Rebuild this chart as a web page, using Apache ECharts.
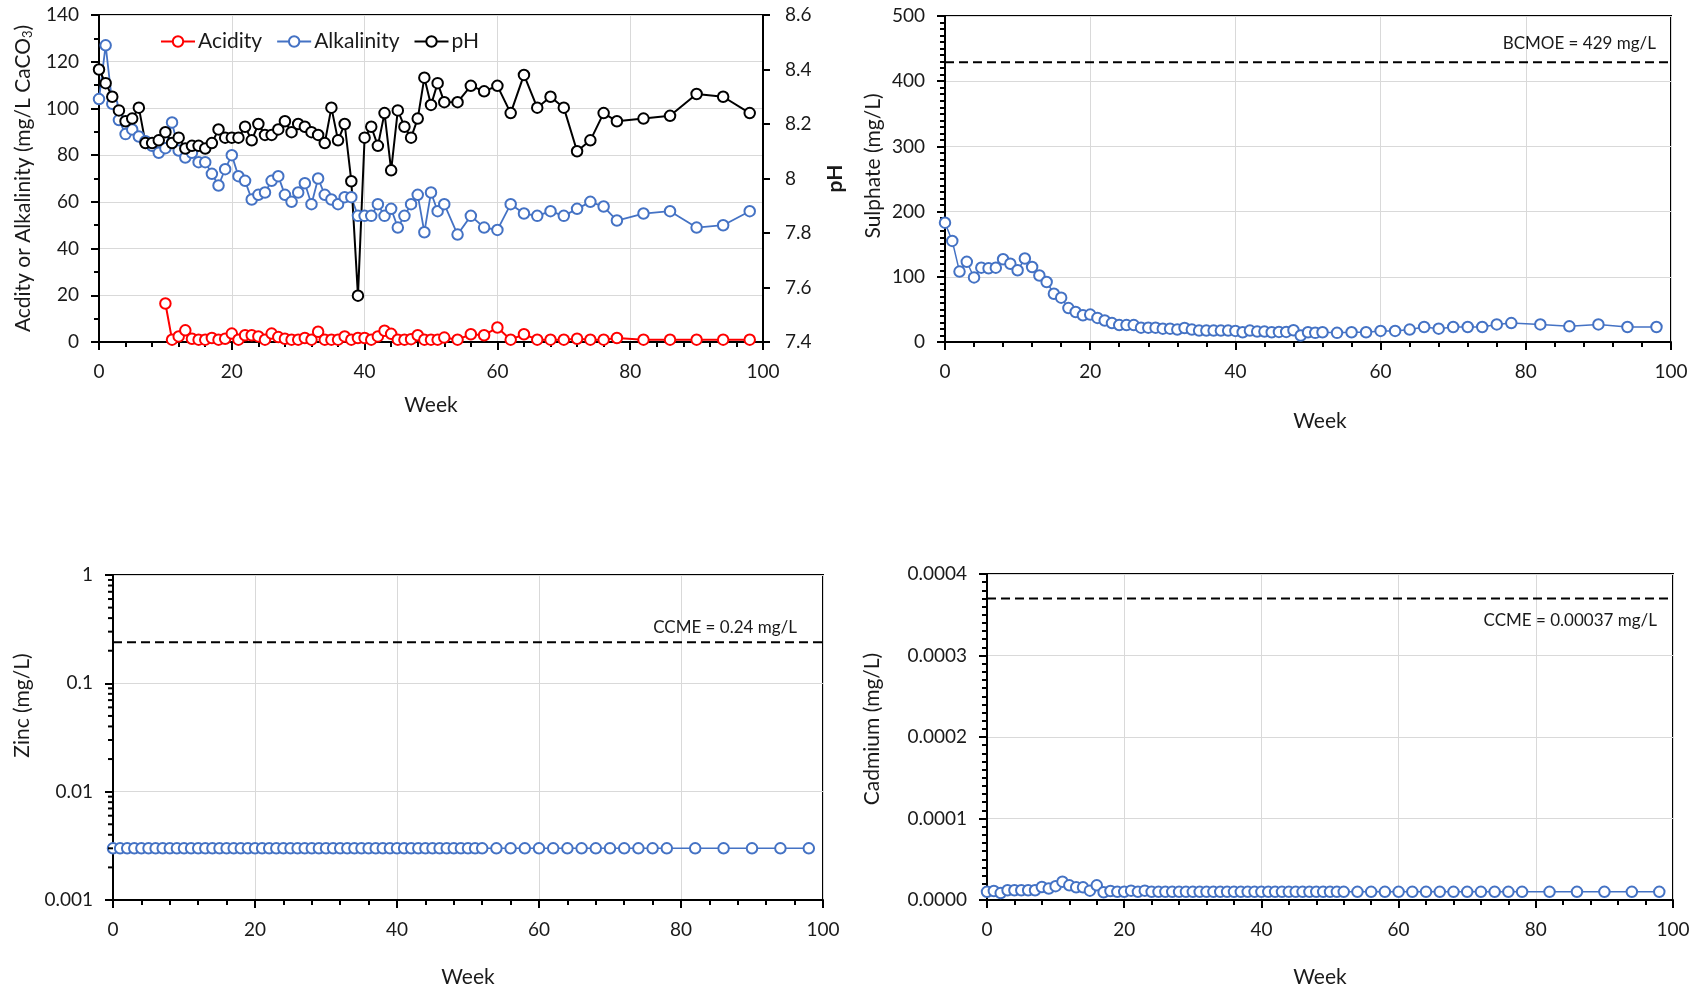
<!DOCTYPE html>
<html><head><meta charset="utf-8">
<script src="https://cdn.jsdelivr.net/npm/echarts@6/dist/echarts.min.js"></script>
<style>html,body{margin:0;padding:0;background:#fff}#c{width:1701px;height:990px}</style>
</head><body><div id="c"></div>
<script>
// ---------------- DATA ----------------
const weeks = [0,1,2,3,4,5,6,7,8,9,10,11,12,13,14,15,16,17,18,19,20,21,22,23,24,25,26,27,28,29,30,31,32,33,34,35,36,37,38,39,40,41,42,43,44,45,46,47,48,49,50,51,52,54,56,58,60,62,64,66,68,70,72,74,76,78,82,86,90,94,98];

const acidity = [null,null,null,null,null,null,null,null,null,null,
  16.5,1,2.4,5,1.4,1,1,1.7,1,1.4,
  3.6,1,2.9,2.9,2.4,1,3.6,2.1,1.4,1,
  1,1.7,1,4.4,1,1,1,2.4,1,1.7,
  1.7,1,2.4,4.8,3.5,1,1,1.2,2.9,1,
  1,1,1.9,
  1,3.3,2.9,6.2,1,3.3,1,1,1,1.4,1,1,1.7,
  1,1,1,1,1];

const alkalinity = [104,127,102,95,89,91,88,86,84,81,
  83,94,82,79,81,77,77,72,67,74,
  80,71,69,61,63,64,69,71,63,60,
  64,68,59,70,63,61,59,62,62,54,
  54,54,59,54,57,49,54,59,63,47,
  64,56,59,
  46,54,49,48,59,55,54,56,54,57,60,58,52,
  55,56,49,50,56];

const pH = [8.40,8.35,8.30,8.25,8.21,8.22,8.26,8.13,8.13,8.14,
  8.17,8.13,8.15,8.11,8.12,8.12,8.11,8.13,8.18,8.15,
  8.15,8.15,8.19,8.14,8.20,8.16,8.16,8.18,8.21,8.17,
  8.20,8.19,8.17,8.16,8.13,8.26,8.14,8.20,7.99,7.57,
  8.15,8.19,8.12,8.24,8.03,8.25,8.19,8.15,8.22,8.37,
  8.27,8.35,8.28,
  8.28,8.34,8.32,8.34,8.24,8.38,8.26,8.30,8.26,8.10,8.14,8.24,8.21,
  8.22,8.23,8.31,8.30,8.24];

const sulphate = [183,155,108,123,99,114,113,114,127,120,
  110,128,115,102,92,74,68,52,46,41,
  42,37,33,29,26,26,26,22,22,22,
  20.5,20.5,19,21.5,19,17.5,17.5,17.5,17.5,17.5,
  17,15,17.5,16,16,15,15.5,15.5,18,10,
  15,14,15,
  14,15,15,17,17,19,23,20.5,23,23,23,27,29,
  27,24,27,23,23];

const zinc = [0.003,0.003,0.003,0.003,0.003,0.003,0.003,0.003,0.003,0.003,
  0.003,0.003,0.003,0.003,0.003,0.003,0.003,0.003,0.003,0.003,
  0.003,0.003,0.003,0.003,0.003,0.003,0.003,0.003,0.003,0.003,
  0.003,0.003,0.003,0.003,0.003,0.003,0.003,0.003,0.003,0.003,
  0.003,0.003,0.003,0.003,0.003,0.003,0.003,0.003,0.003,0.003,
  0.003,0.003,0.003,
  0.003,0.003,0.003,0.003,0.003,0.003,0.003,0.003,0.003,0.003,0.003,0.003,0.003,
  0.003,0.003,0.003,0.003,0.003];

const cadmium = [0.000010,0.000011,0.0000085,0.000012,0.000012,0.000012,0.000012,0.000012,0.000016,0.000014,
  0.000017,0.0000225,0.000018,0.0000155,0.0000155,0.0000115,0.000018,0.0000095,0.000011,0.000010,
  0.000010,0.0000115,0.000010,0.0000115,0.000010,0.000010,0.000010,0.000010,0.000010,0.000010,
  0.000010,0.000010,0.000010,0.000010,0.000010,0.000010,0.000010,0.000010,0.000010,0.000010,
  0.000010,0.000010,0.000010,0.000010,0.000010,0.000010,0.000010,0.000010,0.000010,0.000010,
  0.000010,0.000010,0.000010,
  0.000010,0.000010,0.000010,0.000010,0.000010,0.000010,0.000010,0.000010,0.000010,0.000010,0.000010,0.000010,0.000010,
  0.000010,0.000010,0.000010,0.000010,0.000010];

const sulphateLimit = 429;
const zincLimit = 0.24;
const cadmiumLimit = 0.00037;

const sulphateLimitText = 'BCMOE = 429 mg/L';
const zincLimitText = 'CCME = 0.24 mg/L';
const cadmiumLimitText = 'CCME = 0.00037 mg/L';

const weekMin = 0, weekMax = 100;
const zincDecades = [0.001, 0.01, 0.1];   // log-axis decades that get minor ticks

// ---------------- STYLE ----------------
const FONT = 'Lato';
const TXT = '#1a1a1a';
const BLUE = '#4472C4';
const RED = '#FF0000';
const BLACK = '#000000';
const NAME_SIZE = 21;

function pairs(ys) { return weeks.map((w, i) => [w, ys[i]]); }

function xAxisCfg(gi, nameGap, pad) {
  return {
    type: 'value', gridIndex: gi, min: weekMin, max: weekMax, interval: 20,
    name: 'Week', nameLocation: 'middle', nameGap: nameGap,
    nameTextStyle: { fontFamily: FONT, fontSize: NAME_SIZE, color: TXT, padding: pad || 0 },
    axisLine: { show: true, onZero: false, lineStyle: { color: '#000', width: 2 } },
    axisTick: { show: true, inside: false, length: 8, lineStyle: { color: '#000', width: 2 } },
    minorTick: { show: true, splitNumber: 5, length: 5, lineStyle: { color: '#000', width: 2 } },
    axisLabel: { fontFamily: FONT, fontSize: 19, color: TXT, margin: 20 },
    splitLine: { show: true, lineStyle: { color: '#d9d9d9', width: 1 } }
  };
}

function yAxisCfg(gi, extra) {
  return Object.assign({
    type: 'value', gridIndex: gi, nameLocation: 'middle',
    nameTextStyle: { fontFamily: FONT, fontSize: NAME_SIZE, color: TXT },
    axisLine: { show: true, onZero: false, lineStyle: { color: '#000', width: 2 } },
    axisTick: { show: true, inside: false, length: 8, lineStyle: { color: '#000', width: 2 } },
    axisLabel: { fontFamily: FONT, fontSize: 19, color: TXT, margin: 20 },
    splitLine: { show: true, lineStyle: { color: '#d9d9d9', width: 1 } }
  }, extra);
}

function lineSeries(name, xi, yi, data, color, lw) {
  return {
    name: name, type: 'line', xAxisIndex: xi, yAxisIndex: yi, data: data,
    symbol: 'emptyCircle', symbolSize: 10.5, showSymbol: true,
    lineStyle: { color: color, width: lw },
    itemStyle: { color: color, borderColor: color, borderWidth: 2.2 },
    connectNulls: false, animation: false, z: 3
  };
}

function limitSeries(xi, yi, value) {
  return {
    name: 'limit' + xi, type: 'line', xAxisIndex: xi, yAxisIndex: yi,
    data: [[weekMin, value], [weekMax, value]],
    symbol: 'none', silent: true, animation: false, z: 2,
    lineStyle: { color: '#000', width: 2, type: [9, 5] }
  };
}

const gridBase = { show: true, borderColor: '#000', borderWidth: 2, backgroundColor: 'transparent', outerBoundsMode: 'none', containLabel: false };

const option = {
  animation: false,
  backgroundColor: '#fff',
  grid: [
    Object.assign({ left: 99, top: 15, width: 664, height: 327 }, gridBase),
    Object.assign({ left: 945, top: 16, width: 726, height: 326 }, gridBase),
    Object.assign({ left: 113, top: 575, width: 710, height: 325 }, gridBase),
    Object.assign({ left: 987, top: 574, width: 686, height: 326 }, gridBase)
  ],
  legend: {
    data: ['Acidity', 'Alkalinity', 'pH'],
    left: 155, top: 26, itemWidth: 34, itemHeight: 13, itemGap: 14,
    textStyle: { fontFamily: FONT, fontSize: 21, color: TXT, padding: [0, 0, 0, -2] },
    backgroundColor: 'transparent'
  },
  xAxis: [
    xAxisCfg(0, 53),
    xAxisCfg(1, 69, [0, 0, 0, 24]),
    xAxisCfg(2, 67),
    xAxisCfg(3, 67, [0, 20, 0, 0])
  ],
  yAxis: [
    yAxisCfg(0, {
      min: 0, max: 140, interval: 20,
      name: 'Acdity or Alkalinity (mg/L CaCO{sub|3})', nameGap: 65,
      nameTextStyle: { fontFamily: FONT, fontSize: NAME_SIZE, color: TXT,
        rich: { sub: { fontFamily: FONT, fontSize: 13, color: TXT, verticalAlign: 'bottom', padding: [9, 0, 0, 0] } } },
      minorTick: { show: true, splitNumber: 2, length: 5, lineStyle: { color: '#000', width: 2 } }
    }),
    yAxisCfg(0, {
      position: 'right', min: 7.4, max: 8.6, interval: 0.2,
      name: 'pH', nameGap: 62, nameRotate: 90,
      nameTextStyle: { fontFamily: FONT, fontSize: NAME_SIZE, color: TXT, fontWeight: 'bold' },
      axisTick: { show: true, inside: false, length: 7, lineStyle: { color: '#000', width: 2 } },
      axisLabel: { fontFamily: FONT, fontSize: 19, color: TXT, margin: 22 },
      splitLine: { show: false }
    }),
    yAxisCfg(1, {
      min: 0, max: 500, interval: 100,
      name: 'Sulphate (mg/L)', nameGap: 61,
      nameTextStyle: { fontFamily: FONT, fontSize: NAME_SIZE, color: TXT, padding: [0, 0, 0, 26] },
      minorTick: { show: true, splitNumber: 10, length: 5, lineStyle: { color: '#000', width: 2 } }
    }),
    yAxisCfg(2, {
      type: 'log', logBase: 10, min: 0.001, max: 1,
      name: 'Zinc (mg/L)', nameGap: 80,
      nameTextStyle: { fontFamily: FONT, fontSize: NAME_SIZE, color: TXT, padding: [0, 0, 0, 64] },
      minorTick: { show: false },
      axisLabel: { fontFamily: FONT, fontSize: 19, color: TXT, margin: 20,
        formatter: v => String(Number(Number(v).toPrecision(1))) }
    }),
    yAxisCfg(3, {
      min: 0, max: 0.0004, interval: 0.0001,
      name: 'Cadmium (mg/L)', nameGap: 104,
      nameTextStyle: { fontFamily: FONT, fontSize: NAME_SIZE, color: TXT, padding: [0, 0, 0, 16] },
      minorTick: { show: true, splitNumber: 10, length: 5, lineStyle: { color: '#000', width: 2 } },
      axisLabel: { fontFamily: FONT, fontSize: 19, color: TXT, margin: 20,
        formatter: v => Number(v).toFixed(4) }
    })
  ],
  series: [
    lineSeries('Acidity', 0, 0, pairs(acidity), RED, 2),
    lineSeries('Alkalinity', 0, 0, pairs(alkalinity), BLUE, 1.8),
    lineSeries('pH', 0, 1, pairs(pH), BLACK, 2),
    limitSeries(1, 2, sulphateLimit),
    lineSeries('Sulphate', 1, 2, pairs(sulphate), BLUE, 1.5),
    limitSeries(2, 3, zincLimit),
    lineSeries('Zinc', 2, 3, pairs(zinc), BLUE, 1.5),
    limitSeries(3, 4, cadmiumLimit),
    lineSeries('Cadmium', 3, 4, pairs(cadmium), BLUE, 1.5)
  ]
};

const chart = echarts.init(document.getElementById('c'), null, { renderer: 'canvas' });
chart.setOption(option);

// Limit annotations, positioned through the library's own scales
const yIdxOfGrid = [0, 2, 3, 4];
function note(gridIndex, value, text, dx, dy) {
  const p = chart.convertToPixel({ xAxisIndex: gridIndex, yAxisIndex: yIdxOfGrid[gridIndex] }, [weekMax, value]);
  return {
    type: 'text', x: p[0] - dx, y: p[1] + dy, silent: true, z: 10,
    style: { text: text, fill: TXT, fontFamily: FONT, fontSize: 17, align: 'right', verticalAlign: 'middle' }
  };
}
const graphics = [
  note(1, sulphateLimit, sulphateLimitText, 15, -19),
  note(2, zincLimit, zincLimitText, 26, -15),
  note(3, cadmiumLimit, cadmiumLimitText, 16, 22)
];
// Log-axis minor ticks (2..9 within each decade), via the axis scale
zincDecades.forEach(d => {
  for (let k = 2; k <= 9; k++) {
    const p = chart.convertToPixel({ xAxisIndex: 2, yAxisIndex: 3 }, [weekMin, k * d]);
    graphics.push({ type: 'line', silent: true, z: 10,
      shape: { x1: p[0] - 5, y1: p[1], x2: p[0], y2: p[1] },
      style: { stroke: '#000', lineWidth: 2 } });
  }
});
chart.setOption({ graphic: graphics });
</script>
</body></html>
